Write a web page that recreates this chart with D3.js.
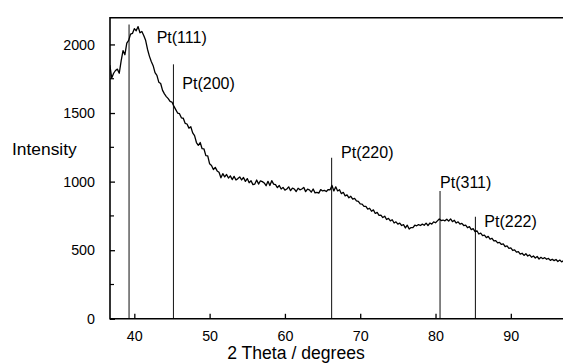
<!DOCTYPE html>
<html>
<head>
<meta charset="utf-8">
<script src="https://cdn.jsdelivr.net/npm/d3@7"></script>
<style>
  html, body { margin: 0; padding: 0; background: #fff; }
  svg { display: block; font-family: "Liberation Sans", Arial, sans-serif; }
</style>
</head>
<body>
<svg id="chart" width="563" height="363"></svg>
<script>
// ---- data ----
const scanStart = 36.75;   // 2 theta of first sample (degrees)
const scanStep = 0.25;     // sampling step (degrees)
const intensity = [
  1850, 1755, 1790, 1810, 1820, 1790, 1880, 1955, 1925, 2010, 2030, 2075, 2080, 2115, 2100, 2130,
  2085, 2095, 2065, 2030, 1965, 1915, 1875, 1845, 1795, 1775, 1725, 1715, 1665, 1640, 1620, 1605,
  1585, 1580, 1550, 1525, 1500, 1495, 1465, 1462, 1425, 1420, 1390, 1400, 1355, 1335, 1285, 1265,
  1285, 1240, 1238, 1190, 1188, 1130, 1118, 1088, 1104, 1078, 1068, 1028, 1058, 1035, 1052, 1026,
  1042, 1015, 1038, 1012, 1022, 1034, 1012, 1030, 1002, 1022, 992, 1006, 978, 982, 1012, 982,
  1006, 1000, 990, 970, 1002, 972, 1007, 982, 978, 956, 972, 946, 958, 938, 946, 962,
  934, 953, 946, 928, 952, 940, 946, 958, 927, 945, 940, 923, 946, 918, 921, 916,
  942, 932, 936, 928, 942, 940, 972, 932, 962, 932, 941, 912, 922, 896, 903, 882,
  893, 872, 878, 860, 856, 838, 836, 820, 820, 800, 806, 784, 794, 768, 776, 754,
  756, 738, 748, 724, 732, 714, 722, 698, 707, 690, 697, 680, 686, 662, 682, 654,
  665, 664, 682, 678, 687, 680, 690, 682, 697, 680, 698, 690, 706, 700, 714, 728,
  716, 720, 714, 726, 712, 728, 708, 718, 698, 707, 690, 696, 680, 683, 664, 672,
  650, 657, 636, 642, 618, 624, 606, 610, 592, 601, 580, 587, 568, 570, 554, 557,
  542, 546, 526, 531, 514, 517, 498, 503, 486, 490, 471, 478, 462, 474, 458, 466,
  449, 458, 443, 454, 436, 448, 438, 446, 434, 440, 426, 434, 424, 432, 418, 428,
  415, 424
];
const peakLabels = ["Pt(111)", "Pt(200)", "Pt(220)", "Pt(311)", "Pt(222)"];
const peakPositions = [39.3, 45.2, 66.2, 80.6, 85.3];
const peakHeights = [2146, 1855, 1174, 931, 744];
const labelAnchorTheta = [42.97, 46.37, 67.45, 80.6, 86.48];
const labelAnchorIntensity = [2056, 1721, 1214, 995, 715];
const xTicks = [40, 50, 60, 70, 80, 90];
const yTicks = [0, 500, 1000, 1500, 2000];
const yMinorTicks = [250, 750, 1250, 1750];

// ---- chart ----
const svg = d3.select("#chart");
const pLeft = 110, pRight = 563, pTop = 17, pBottom = 318.8;

const x = d3.scaleLinear().domain([36.77, 96.93]).range([pLeft, pRight]);
const y = d3.scaleLinear().domain([0, 2200]).range([pBottom, pTop]);

const series = intensity.map((v, i) => ({ t: scanStart + i * scanStep, v }));

const defs = svg.append("defs");
defs.append("clipPath").attr("id", "clip")
  .append("rect").attr("x", pLeft).attr("y", 0).attr("width", pRight - pLeft).attr("height", pBottom);

// peak reference lines
svg.append("g").selectAll("line").data(peakPositions).join("line")
  .attr("x1", d => x(d)).attr("x2", d => x(d))
  .attr("y1", y(0)).attr("y2", (d, i) => y(peakHeights[i]))
  .attr("stroke", "#222").attr("stroke-width", 1.1);

// curve
svg.append("path")
  .datum(series)
  .attr("clip-path", "url(#clip)")
  .attr("fill", "none")
  .attr("stroke", "#000")
  .attr("stroke-width", 1.3)
  .attr("stroke-linejoin", "round")
  .attr("d", d3.line().x(d => x(d.t)).y(d => y(d.v)));

// peak labels
svg.append("g").selectAll("text").data(peakLabels).join("text")
  .attr("x", (d, i) => x(labelAnchorTheta[i]))
  .attr("y", (d, i) => y(labelAnchorIntensity[i]) + 5.8)
  .attr("font-size", 16)
  .attr("fill", "#000")
  .text(d => d);

// axes
const yAxis = d3.axisLeft(y).tickValues(yTicks).tickSizeInner(-5).tickSizeOuter(0).tickPadding(15).tickFormat(d3.format("d"));
const yg = svg.append("g").attr("transform", `translate(${pLeft},0)`).call(yAxis);
yg.select(".domain").remove();
yg.selectAll(".tick line").attr("stroke", "#000").attr("stroke-width", 1.3);
yg.selectAll(".tick text").attr("font-size", 14.3).attr("font-family", "Liberation Sans, Arial, sans-serif").attr("fill", "#000");

svg.append("g").selectAll("line").data(yMinorTicks).join("line")
  .attr("x1", pLeft).attr("x2", pLeft + 4)
  .attr("y1", d => y(d)).attr("y2", d => y(d))
  .attr("stroke", "#000").attr("stroke-width", 1.2);

const xAxis = d3.axisBottom(x).tickValues(xTicks).tickSizeInner(-5).tickSizeOuter(0).tickPadding(12).tickFormat(d3.format("d"));
const xg = svg.append("g").attr("transform", `translate(0,${pBottom})`).call(xAxis);
xg.select(".domain").remove();
xg.selectAll(".tick line").attr("stroke", "#000").attr("stroke-width", 1.3);
xg.selectAll(".tick text").attr("font-size", 14.3).attr("font-family", "Liberation Sans, Arial, sans-serif").attr("fill", "#000");

// frame lines: left, bottom, top
svg.append("line").attr("x1", pLeft).attr("x2", pLeft).attr("y1", pTop).attr("y2", pBottom + 0.7)
  .attr("stroke", "#000").attr("stroke-width", 1.6);
svg.append("line").attr("x1", pLeft).attr("x2", pRight).attr("y1", pBottom).attr("y2", pBottom)
  .attr("stroke", "#000").attr("stroke-width", 1.6);
svg.append("line").attr("x1", pLeft).attr("x2", pRight).attr("y1", pTop + 0.8).attr("y2", pTop + 0.8)
  .attr("stroke", "#000").attr("stroke-width", 1.4);

// axis titles
svg.append("text").attr("x", 12).attr("y", 155).attr("font-size", 17.4).attr("fill", "#000").text("Intensity");
svg.append("text").attr("x", 296).attr("y", 358.5).attr("text-anchor", "middle").attr("font-size", 17.6).attr("fill", "#000").text("2 Theta / degrees");
</script>
</body>
</html>
